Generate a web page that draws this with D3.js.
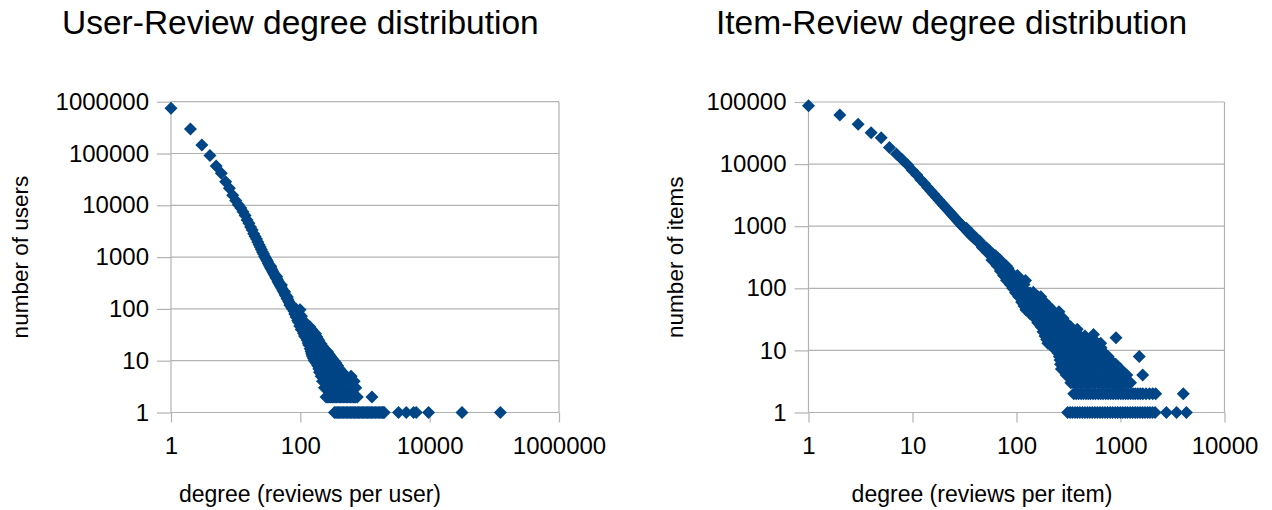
<!DOCTYPE html>
<html>
<head>
<meta charset="utf-8">
<script src="https://cdn.jsdelivr.net/npm/d3@7"></script>
<style>
  body { margin: 0; background: #ffffff; }
  svg text { font-family: "Liberation Sans", Arial, sans-serif; fill: #000000; }
</style>
</head>
<body>
<svg id="chart" width="1272" height="510"></svg>
<script>
// Degree distribution of the user-review graph: [degree, number of users]
const userReviewPoints = [
  [1,750000],[2,298000],[3,146000],[4,91000],[5,57500],[6,41500],[7,28500],[8,21300],[9,15600],[10,12400],
  [11,10300],[12,8900],[13,7500],[14,6350],[15,5200],[16,4500],[17,3800],[18,3350],[19,2830],[20,2500],
  [21,2230],[22,1950],[23,1740],[24,1570],[25,1400],[26,1250],[27,1150],[28,1040],[29,960],[30,890],
  [31,830],[32,755],[33,705],[34,650],[35,612],[36,580],[37,538],[38,512],[39,478],[40,455],
  [41,430],[42,405],[43,388],[44,368],[45,345],[46,328],[47,312],[48,300],[49,282],[50,268],
  [52,247],[54,224],[56,207],[58,188],[60,177],[62,161],[64,152],[66,139],[68,132],[70,121],
  [72,115],[74,105],[77,100],[80,90],[35,660],[43,420],[51,290],[57,215],[63,170],[69,118],
  // sparse tail
  [76,100],[86,100],[99,96],[82,80],[90,82],[98,78],[86,70],[95,68],[104,72],
  [91,60],[100,62],[110,58],[94,55],[105,53],[118,55],
  [98,47],[112,46],[126,48],[140,45],[103,40],[118,41],[133,39],[150,40],
  [112,34],[128,35],[145,33],[160,34],[172,33],[116,30],[135,31],[150,29],[168,30],[180,29],
  [122,28],[140,27],[158,28],[176,27],[188,26],[127,25],[145,25],[165,24],[185,25],[195,24],
  [132,22],[150,22],[172,23],[195,22],[210,21],[135,20],[158,20],[180,19],[205,20],[220,19],
  [142,17],[165,18],[190,17],[215,17],[245,16],[147,15],[170,15],[195,16],[225,15],[262,15],
  [150,14],[175,14],[200,14],[232,13],[268,14],[280,13],[152,13],[178,12],[208,13],[240,12],[275,12],[295,12],
  [155,12],[182,11],[215,11],[250,11],[285,11],[310,11],[160,11],[190,10],[225,10],[262,10],[300,10],[332,10],
  [165,10],[195,9],[230,9],[270,9],[310,9],[355,9],[176,9],[210,8],[250,8],[290,8],[330,8],[378,8],
  [186,8],[220,7],[258,7],[300,7],[350,7],[400,7],[193,7],[228,6],[268,6],[315,6],[370,6],[450,6],
  [198,6],[235,5],[275,5],[325,5],[380,5],[440,5],[505,5],[210,5],[250,4],[295,4],[345,4],[405,4],[470,4],[540,4],[610,5],
  [220,4],[240,4],[260,4],[282,4],[305,4],[330,4],[360,4],[390,4],[420,4],[455,4],[490,4],[530,4],[570,4],[620,4],[680,4],
  [236,3],[250,3],[265,3],[280,3],[295,3],[312,3],[330,3],[350,3],[370,3],[390,3],[412,3],[436,3],[460,3],
  [486,3],[512,3],[540,3],[580,3],[620,3],[665,3],[720,3],
  [250,2],[262,2],[275,2],[288,2],[300,2],[315,2],[330,2],[345,2],[360,2],[380,2],[400,2],[420,2],[440,2],
  [465,2],[490,2],[515,2],[540,2],[570,2],[600,2],[630,2],[660,2],[690,2],[720,2],[760,2],[1280,2],
  [337,1],[355,1],[370,1],[387,1],[405,1],[425,1],[445,1],[467,1],[490,1],[515,1],[540,1],[567,1],[595,1],
  [625,1],[655,1],[690,1],[720,1],[755,1],[790,1],[830,1],[870,1],[910,1],[955,1],[1000,1],
  [1050,1],[1100,1],[1150,1],[1200,1],[1260,1],[1320,1],[1390,1],[1460,1],[1530,1],[1610,1],[1690,1],
  [1770,1],[1850,1],[1920,1],[1980,1],
  [3300,1],[4340,1],[5640,1],[6200,1],[9620,1],[31600,1],[124000,1]
];

// Degree distribution of the item-review graph: [degree, number of items]
const itemReviewPoints = [
  [1,87000],[2,62000],[3,44000],[4,32000],[5,26500],[6,18500],[7,14500],[8,11800],[9,9700],[10,7900],
  [11,6650],[12,5600],[13,4850],[14,4200],[15,3700],[16,3270],[17,2930],[18,2620],[19,2370],[20,2150],
  [21,1960],[22,1800],[23,1660],[24,1530],[25,1420],[26,1320],[27,1230],[28,1150],[29,1080],[30,1010],
  [31,960],[32,900],[33,860],[34,815],[35,770],[36,735],[37,705],[38,670],[39,648],[40,627],
  [41,600],[42,575],[43,556],[44,535],[45,512],[46,495],[47,480],[48,465],[49,450],[50,437],
  [52,410],[54,385],[56,362],[58,342],[60,325],[62,310],[65,286],[68,262],[71,240],[75,208],
  [80,180],[85,157],[90,138],[95,122],[100,108],
  [33,930],[37,760],[41,640],[44,575],[47,455],[51,455],[53,370],[55,400],[57,330],[59,360],
  [61,295],[63,335],[66,255],[67,300],[70,215],[73,250],[77,195],[83,210],
  // sparse tail
  [58,285],[64,290],[70,282],[65,230],[72,232],[80,228],[70,190],[78,192],[86,188],
  [75,160],[84,162],[93,158],[102,160],[80,135],[90,136],[100,134],[112,135],[122,134],
  [87,115],[96,116],[106,114],[118,115],[92,100],[102,100],[112,100],[118,98],
  [98,85],[110,86],[122,85],[135,84],[145,86],
  [105,73],[117,72],[130,73],[145,72],[160,74],[171,73],
  [112,60],[125,61],[140,60],[157,60],[175,59],[185,61],
  [118,52],[132,52],[148,51],[165,52],[185,52],[205,51],
  [123,45],[138,45],[155,44],[173,45],[195,44],[220,45],
  [135,39],[152,39],[170,38],[190,39],[212,39],[235,38],[256,42],
  [150,33],[168,33],[188,32],[210,33],[234,33],[260,32],[280,33],
  [160,28],[180,28],[200,27],[222,28],[248,28],[276,27],[300,28],
  [172,24],[192,24],[214,23],[240,24],[268,24],[300,23],[331,24],
  [180,20],[200,20],[224,21],[250,20],[280,20],[312,21],[348,20],[384,22],
  [188,17],[210,17],[235,17],[262,17],[292,17],[326,17],[365,17],[408,17],[455,17],[550,18],[905,16],
  [195,15],[218,15],[244,15],[272,15],[304,15],[340,15],[380,15],[425,15],[475,15],[530,15],
  [200,13],[225,13],[252,13],[282,13],[315,13],[352,13],[395,13],[440,13],[490,13],[545,13],[600,13],[645,13],
  [225,11],[250,11],[280,11],[312,11],[348,11],[390,11],[435,11],[485,11],[540,11],[600,11],[650,11],
  [250,10],[280,10],[312,10],[348,10],[390,10],[435,10],[485,10],[540,10],[600,10],[660,10],
  [252,9],[282,9],[315,9],[352,9],[395,9],[440,9],[490,9],[550,9],[615,9],[690,9],
  [258,8],[288,8],[320,8],[360,8],[400,8],[450,8],[500,8],[560,8],[630,8],[700,8],[760,8],[1515,8],
  [262,7],[290,7],[325,7],[365,7],[405,7],[455,7],[510,7],[570,7],[640,7],[720,7],[800,7],
  [265,6],[295,6],[330,6],[370,6],[415,6],[465,6],[520,6],[580,6],[650,6],[730,6],[820,6],[900,6],
  [270,5],[300,5],[340,5],[380,5],[425,5],[475,5],[530,5],[590,5],[660,5],[740,5],[830,5],[920,5],[1000,5],
  [300,4],[335,4],[375,4],[420,4],[470,4],[525,4],[590,4],[660,4],[740,4],[830,4],[920,4],[1020,4],[1150,4],[1635,4],
  [333,3],[352,3],[370,3],[390,3],[410,3],[435,3],[460,3],[485,3],[510,3],[540,3],[570,3],[605,3],[640,3],
  [675,3],[710,3],[750,3],[790,3],[835,3],[880,3],[930,3],[980,3],[1035,3],[1090,3],[1170,3],[1250,3],
  [355,2],[375,2],[395,2],[418,2],[440,2],[465,2],[490,2],[515,2],[545,2],[575,2],[610,2],[645,2],[680,2],
  [720,2],[760,2],[805,2],[850,2],[900,2],[950,2],[1005,2],[1060,2],[1120,2],[1180,2],[1250,2],[1320,2],
  [1390,2],[1470,2],[1550,2],[1640,2],[1760,2],[1900,2],[2040,2],[2180,2],[4015,2],
  [310,1],[328,1],[345,1],[365,1],[385,1],[407,1],[430,1],[455,1],[480,1],[507,1],[535,1],[567,1],[600,1],
  [635,1],[670,1],[710,1],[750,1],[795,1],[840,1],[890,1],[940,1],[995,1],[1050,1],[1110,1],[1170,1],
  [1240,1],[1310,1],[1385,1],[1460,1],[1545,1],[1630,1],[1720,1],[1820,1],[1920,1],[2030,1],[2150,1],
  [2760,1],[3460,1],[4300,1]
];

// Axis tick values
const userXTicks = [1, 100, 10000, 1000000];
const userYTicks = [1, 10, 100, 1000, 10000, 100000, 1000000];
const itemXTicks = [1, 10, 100, 1000, 10000];
const itemYTicks = [1, 10, 100, 1000, 10000, 100000];

// Text
const titles = ["User-Review degree distribution", "Item-Review degree distribution"];
const xTitles = ["degree (reviews per user)", "degree (reviews per item)"];
const yTitles = ["number of users", "number of items"];

const MARK = "#004586";
const GRID = "#b3b3b3";

const svg = d3.select("#chart");

const panels = [
  { points: userReviewPoints, xTicks: userXTicks, yTicks: userYTicks,
    xDomain: [1, 1e6], yDomain: [1, 1e6], left: 171, right: 559, top: 101.7, bottom: 412.5,
    title: titles[0], titleX: 62, xTitle: xTitles[0], xTitleX: 310, yTitle: yTitles[0], yTitleX: 28 },
  { points: itemReviewPoints, xTicks: itemXTicks, yTicks: itemYTicks,
    xDomain: [1, 1e4], yDomain: [1, 1e5], left: 808.5, right: 1224.5, top: 102, bottom: 412.5,
    title: titles[1], titleX: 716, xTitle: xTitles[1], xTitleX: 982, yTitle: yTitles[1], yTitleX: 683 }
];

const fmt = d => String(d);

panels.forEach(p => {
  const x = d3.scaleLog().domain(p.xDomain).range([p.left, p.right]);
  const y = d3.scaleLog().domain(p.yDomain).range([p.bottom, p.top]);
  const g = svg.append("g");

  // horizontal gridlines
  g.append("g").selectAll("line").data(p.yTicks).join("line")
    .attr("x1", p.left).attr("x2", p.right)
    .attr("y1", d => y(d)).attr("y2", d => y(d))
    .attr("stroke", GRID).attr("stroke-width", 1.2);

  // y axis with outward ticks
  const yAxis = d3.axisLeft(y).tickValues(p.yTicks).tickFormat(fmt).tickSize(14).tickPadding(8);
  const ya = g.append("g").attr("transform", `translate(${p.left},0)`).call(yAxis);
  // x axis with outward ticks
  const xAxis = d3.axisBottom(x).tickValues(p.xTicks).tickFormat(fmt).tickSize(10).tickPadding(14);
  const xa = g.append("g").attr("transform", `translate(0,${p.bottom})`).call(xAxis);
  [ya, xa].forEach(a => {
    a.select(".domain").attr("stroke", GRID).attr("stroke-width", 1.2);
    a.selectAll(".tick line").attr("stroke", GRID).attr("stroke-width", 1.2);
    a.selectAll(".tick text").attr("font-size", 24).attr("fill", "#000")
      .attr("font-family", "'Liberation Sans', Arial, sans-serif");
  });
  ya.select(".domain").attr("d", `M0,${p.bottom}V${p.top}`);
  xa.select(".domain").attr("d", `M${p.left},0H${p.right}`);

  // right wall line
  g.append("line").attr("x1", p.right).attr("x2", p.right)
    .attr("y1", p.top).attr("y2", p.bottom)
    .attr("stroke", GRID).attr("stroke-width", 1.2);

  // diamond markers
  g.append("g").selectAll("path").data(p.points).join("path")
    .attr("transform", d => `translate(${x(d[0])},${y(d[1])})`)
    .attr("d", "M0,-6.5L6.5,0L0,6.5L-6.5,0Z")
    .attr("fill", MARK);

  // titles
  g.append("text").attr("x", p.titleX).attr("y", 34)
    .attr("font-size", 33.5).text(p.title);
  g.append("text").attr("x", p.xTitleX).attr("y", 502)
    .attr("text-anchor", "middle").attr("font-size", 23).text(p.xTitle);
  g.append("text")
    .attr("transform", `translate(${p.yTitleX},${(p.top + p.bottom) / 2}) rotate(-90)`)
    .attr("text-anchor", "middle").attr("font-size", 22.5).text(p.yTitle);
});
</script>
</body>
</html>
